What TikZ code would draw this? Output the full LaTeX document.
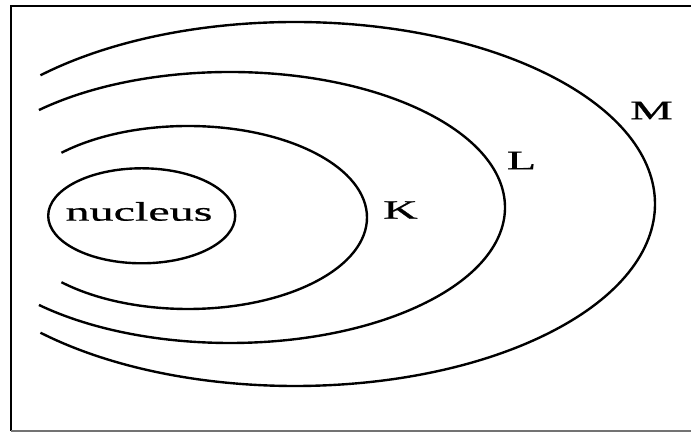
\documentclass[tikz,border=0pt]{standalone}
\usepackage{fontspec}
\setmainfont{Liberation Serif}[FakeStretch=1.8,FakeBold=0.8]

\tikzset{
  orbit/.style={line width=1.7pt},
  shelllabel/.style={inner sep=0pt,font=\fontsize{19}{19}\selectfont}
}

\begin{document}
\begin{tikzpicture}[x=0.025cm,y=0.025cm]
  \useasboundingbox (0,0) rectangle (691,433);
  % frame, open on the right
  \draw[line width=1.3pt] (691,427) -- (11,427) -- (11,2);
  \draw[line width=1.1pt,black!55] (11,2) -- (691,2);
  % nucleus
  \coordinate (nc) at (141.7,217.2);
  \draw[orbit] (nc) ellipse[x radius=93.5,y radius=47.5];
  \node[shelllabel] (nuc) at (139,221.5) {nucleus};
  % shells
  \coordinate (kc) at (188,215.5);
  \coordinate (lc) at (230,225.5);
  \coordinate (mc) at (295,229);
  \draw[orbit] ([shift={(135:179 and 91.5)}]kc) arc[start angle=135,end angle=-135,x radius=179,y radius=91.5];
  \draw[orbit] ([shift={(134:275 and 135.5)}]lc) arc[start angle=134,end angle=-134,x radius=275,y radius=135.5];
  \draw[orbit] ([shift={(135:360 and 182)}]mc) arc[start angle=135,end angle=-135,x radius=360,y radius=182];
  \node[shelllabel] (K) at (400.5,223) {K};
  \node[shelllabel] (L) at (521.5,272.5) {L};
  \node[shelllabel] (M) at (651.5,322.5) {M};
\end{tikzpicture}
\end{document}
